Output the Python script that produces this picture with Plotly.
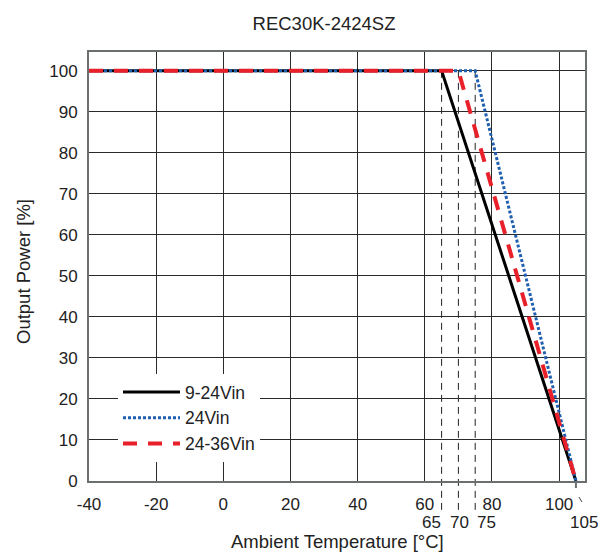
import plotly.graph_objects as go

# ---- data ----
temp_9_24 = [-40, 65, 105]
power_9_24 = [100, 100, 0]
temp_24 = [-40, 75, 105]
power_24 = [100, 100, 0]
temp_24_36 = [-40, 70, 105]
power_24_36 = [100, 100, 0]
derate_temps = [65, 70, 75]
derate_labels = ["65", "70", "75"]
x_ticks = [-40, -20, 0, 20, 40, 60, 80, 100]
y_ticks = [0, 10, 20, 30, 40, 50, 60, 70, 80, 90, 100]

XMIN, XMAX = -40, 107.7
YMIN, YMAX = 0, 104.6

FONT = "Liberation Sans, Arial, Helvetica, sans-serif"
TXT = "#222222"
TICK_SIZE = 17
TITLE_SIZE = 18.5

PLOT_W = 606 - 89 - 21
PLOT_H = 553 - 52 - 72


def px(v):
    return (v - XMIN) / (XMAX - XMIN)


def py(v):
    return (v - YMIN) / (YMAX - YMIN)


fig = go.Figure()
fig.add_trace(go.Scatter(x=temp_9_24, y=power_9_24, mode="lines", name="9-24Vin",
                         line=dict(color="black", width=3)))
fig.add_trace(go.Scatter(x=temp_24, y=power_24, mode="lines", name="24Vin",
                         line=dict(color="#1f5fb0", width=3, dash="3px,2px")))
fig.add_trace(go.Scatter(x=temp_24_36, y=power_24_36, mode="lines", name="24-36Vin",
                         line=dict(color="#e8202a", width=4, dash="14px,11px")))

shapes = []
for t in derate_temps:
    shapes.append(dict(type="line", xref="paper", yref="paper",
                       x0=px(t), x1=px(t), y0=py(100), y1=-30 / PLOT_H,
                       line=dict(color="#222222", width=1, dash="7px,5px"), layer="below"))
# tick at 105 and leader
shapes.append(dict(type="line", xref="paper", yref="paper",
                   x0=px(105), x1=px(105), y0=0, y1=-7 / PLOT_H,
                   line=dict(color="#6b6f6f", width=2)))
shapes.append(dict(type="line", xref="paper", yref="paper",
                   x0=px(105) + 3 / PLOT_W, x1=px(105) + 6 / PLOT_W, y0=-16 / PLOT_H, y1=-21 / PLOT_H,
                   line=dict(color="#444", width=1)))

annotations = []
label_offsets = [-3.0, 0.4, 3.3]
for t, lab, off in zip(derate_temps, derate_labels, label_offsets):
    annotations.append(dict(x=t + off, y=-41.5 / PLOT_H, xref="x", yref="paper", text=lab,
                            showarrow=False, font=dict(family=FONT, size=TICK_SIZE, color=TXT),
                            xanchor="center", yanchor="middle"))
annotations.append(dict(x=107.3, y=-41.5 / PLOT_H, xref="x", yref="paper", text="105",
                        showarrow=False, font=dict(family=FONT, size=TICK_SIZE, color=TXT),
                        xanchor="center", yanchor="middle"))
# axis titles
annotations.append(dict(x=0.5, y=-60 / PLOT_H, xref="paper", yref="paper",
                        text="Ambient Temperature [°C]", showarrow=False,
                        font=dict(family=FONT, size=TITLE_SIZE, color=TXT),
                        xanchor="center", yanchor="middle"))
annotations.append(dict(x=-66 / PLOT_W, y=209 / PLOT_H, xref="paper", yref="paper",
                        text="Output Power [%]", showarrow=False, textangle=-90,
                        font=dict(family=FONT, size=TITLE_SIZE, color=TXT),
                        xanchor="center", yanchor="middle"))

fig.update_layout(
    width=606, height=553,
    margin=dict(l=89, r=21, t=52, b=72, autoexpand=False),
    paper_bgcolor="white", plot_bgcolor="white",
    font=dict(family=FONT, size=TICK_SIZE, color=TXT),
    title=dict(text="REC30K-2424SZ", x=324 / 606, xanchor="center", y=1 - 24 / 553, yanchor="middle",
               font=dict(family=FONT, size=TITLE_SIZE, color=TXT)),
    showlegend=True,
    legend=dict(x=(118 - 89) / PLOT_W, y=(481 - 462) / PLOT_H, xanchor="left", yanchor="bottom",
                bgcolor="white", borderwidth=0, itemwidth=57, tracegroupgap=0,
                font=dict(family=FONT, size=TICK_SIZE + 0.5, color=TXT)),
    shapes=shapes,
    annotations=annotations,
)
fig.update_xaxes(range=[XMIN, XMAX], tickvals=x_ticks, ticktext=[str(v) for v in x_ticks],
                 showgrid=True, gridcolor="#2a2a2a", gridwidth=1,
                 showline=True, linecolor="#6b6f6f", linewidth=2, mirror=True,
                 zeroline=False, ticks="", ticklabelstandoff=7, automargin=False)
fig.update_yaxes(range=[YMIN, YMAX], tickvals=y_ticks,
                 showgrid=True, gridcolor="#2a2a2a", gridwidth=1,
                 showline=True, linecolor="#6b6f6f", linewidth=2, mirror=True,
                 zeroline=False, ticks="", ticklabelstandoff=6, automargin=False)

fig.write_html("out.html")
